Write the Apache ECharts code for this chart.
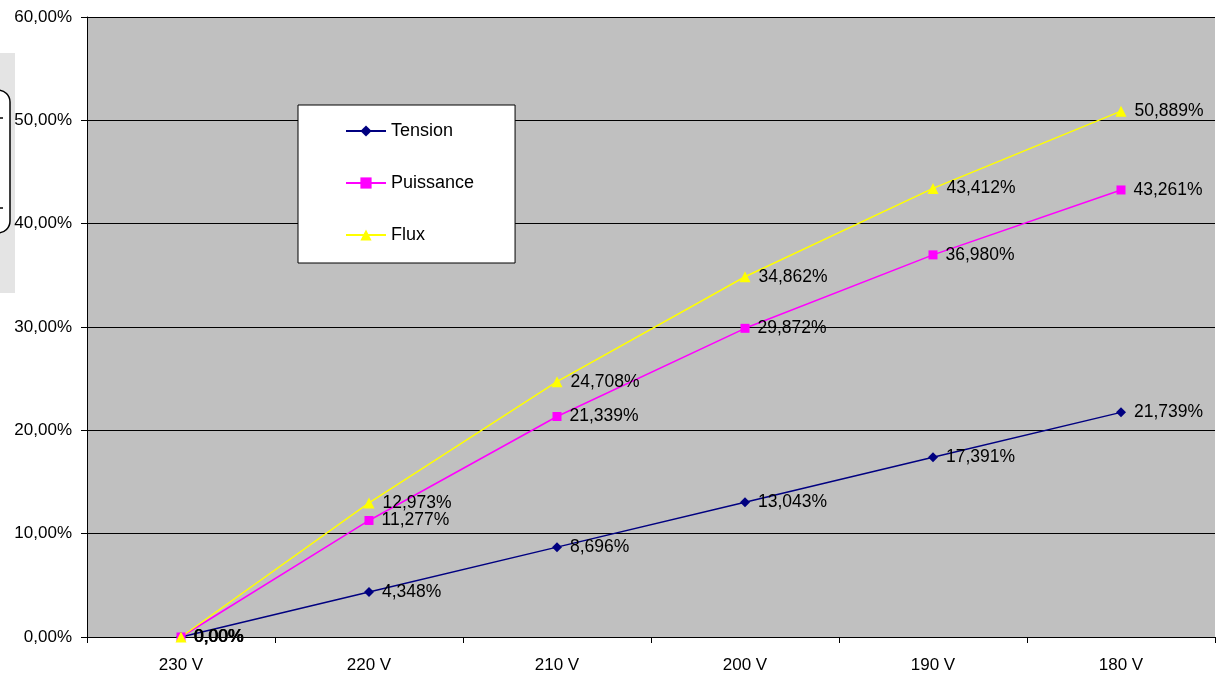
<!DOCTYPE html>
<html>
<head>
<meta charset="utf-8">
<script src="https://cdn.jsdelivr.net/npm/echarts@6/dist/echarts.min.js"></script>
<style>
  html, body { margin: 0; padding: 0; background: #fff; }
  #chart { width: 1220px; height: 675px; }
</style>
</head>
<body>
<div id="chart"></div>
<script>
var categories = ['230 V', '220 V', '210 V', '200 V', '190 V', '180 V'];
var tension = [0, 4.348, 8.696, 13.043, 17.391, 21.739];
var puissance = [0, 11.277, 21.339, 29.872, 36.980, 43.261];
var flux = [0, 12.973, 24.708, 34.862, 43.412, 50.889];

var FONT = 'Liberation Sans, Arial, sans-serif';

function pct(v, dec){
	return v.toFixed(dec).replace('.', ',') + '%';
}

function labelFmt(p){
	return p.value === 0 ? '0,00%' : pct(p.value, 3);
}

function makeSeries(name, data, color, symbol, size){
	return {
		name: name,
		type: 'line',
		data: data,
		symbol: symbol,
		symbolSize: size,
		showAllSymbol: true,
		lineStyle: { color: color, width: 1.5 },
		itemStyle: { color: color },
		label: {
			show: true,
			position: 'right',
			distance: 8,
			color: '#000',
			fontFamily: FONT,
			fontSize: 17.5,
			formatter: labelFmt
		},
		emphasis: { disabled: true },
		animation: false
	};
}

var chart = echarts.init(document.getElementById('chart'));
chart.setOption({
	backgroundColor: '#fff',
	animation: false,
	grid: {
		left: 87, right: 5, top: 17, bottom: 38,
		show: true,
		backgroundColor: '#c0c0c0',
		borderWidth: 0
	},
	legend: {
		orient: 'vertical',
		left: 298, top: 105,
		padding: [17, 41, 19, 47],
		itemGap: 34,
		itemWidth: 40,
		itemHeight: 14,
		backgroundColor: '#fff',
		borderColor: '#000',
		borderWidth: 1,
		textStyle: { fontFamily: FONT, fontSize: 18, color: '#000' },
		data: ['Tension', 'Puissance', 'Flux']
	},
	xAxis: {
		type: 'category',
		data: categories,
		boundaryGap: true,
		axisLine: { lineStyle: { color: '#000', width: 1 } },
		axisTick: { show: true, length: 6, lineStyle: { color: '#000' } },
		axisLabel: { color: '#000', fontFamily: FONT, fontSize: 17, margin: 20 },
		splitLine: { show: false }
	},
	yAxis: {
		type: 'value',
		min: 0, max: 60, interval: 10,
		axisLine: { show: true, lineStyle: { color: '#000', width: 1 } },
		axisTick: { show: true, length: 6, lineStyle: { color: '#000' } },
		axisLabel: {
			color: '#000', fontFamily: FONT, fontSize: 17, margin: 15,
			formatter: function(v){ return pct(v, 2); }
		},
		splitLine: { show: true, lineStyle: { color: '#000', width: 1 } }
	},
	graphic: [
		{ type: 'rect', shape: { x: 0, y: 53, width: 15, height: 240 }, style: { fill: '#e4e4e4' }, silent: true },
		{ type: 'rect', shape: { x: -25, y: 90, width: 35, height: 143, r: 12 }, style: { fill: '#fff', stroke: '#000', lineWidth: 1.5 }, silent: true },
		{ type: 'line', shape: { x1: 0, y1: 118, x2: 3, y2: 118 }, style: { stroke: '#000', lineWidth: 1.5 }, silent: true },
		{ type: 'line', shape: { x1: 0, y1: 208, x2: 3, y2: 208 }, style: { stroke: '#000', lineWidth: 1.5 }, silent: true }
	],
	series: [
		makeSeries('Tension', tension, '#000080', 'diamond', 10),
		makeSeries('Puissance', puissance, '#ff00ff', 'rect', 9),
		makeSeries('Flux', flux, '#ffff00', 'triangle', 11)
	]
});
</script>
</body>
</html>
